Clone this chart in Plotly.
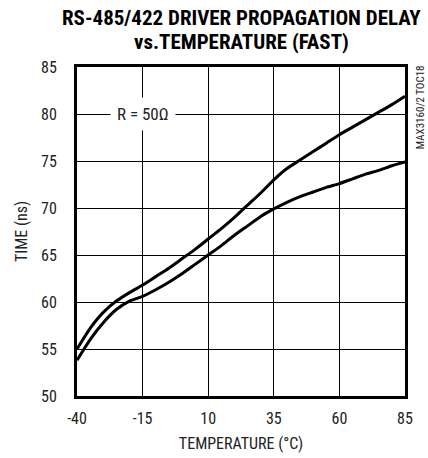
import plotly.graph_objects as go

temps = [-40, -35, -30, -25, -20, -15, -10, -5, 0, 5, 10, 15, 20, 25, 30, 35, 40, 45, 50, 55, 60, 65, 70, 75, 80, 85]
delay_upper = [55.0, 57.2, 58.9, 60.1, 61.0, 61.8, 62.7, 63.6, 64.6, 65.6, 66.7, 67.8, 69.0, 70.3, 71.6, 73.0, 74.2, 75.1, 76.0, 76.9, 77.8, 78.6, 79.4, 80.2, 81.0, 81.9]
delay_lower = [53.8, 56.0, 57.8, 59.2, 60.1, 60.6, 61.3, 62.1, 63.0, 64.0, 65.0, 66.0, 67.1, 68.1, 69.1, 69.9, 70.6, 71.2, 71.7, 72.2, 72.6, 73.1, 73.6, 74.0, 74.5, 74.9]
x_ticks = [-40, -15, 10, 35, 60, 85]
y_ticks = [50, 55, 60, 65, 70, 75, 80, 85]
title_lines = ["RS-485/422 DRIVER PROPAGATION DELAY", "vs.TEMPERATURE (FAST)"]

FONT = "Roboto Condensed, Liberation Sans Narrow, sans-serif"

fig = go.Figure()
for ys in (delay_upper, delay_lower):
    fig.add_trace(go.Scatter(x=temps, y=ys, mode="lines",
                             line=dict(color="black", width=3, shape="spline", smoothing=0.6),
                             showlegend=False, hoverinfo="skip"))

fig.update_layout(
    width=428, height=458,
    margin=dict(l=77, r=23, t=67, b=62),
    paper_bgcolor="white", plot_bgcolor="white",
    font=dict(family=FONT, size=16, color="#222"),
    xaxis=dict(range=[-40, 85], tickvals=x_ticks, ticktext=[str(v) for v in x_ticks],
               showgrid=True, gridcolor="black", gridwidth=1, zeroline=False,
               showline=True, mirror=True, linecolor="black", linewidth=3,
               ticks="outside", ticklen=6, tickcolor="rgba(0,0,0,0)", automargin=False,
               title=dict(text="TEMPERATURE (°C)", standoff=11, font=dict(size=16))),
    yaxis=dict(range=[50, 85], tickvals=y_ticks, ticktext=[str(v) for v in y_ticks],
               showgrid=True, gridcolor="black", gridwidth=1, zeroline=False,
               showline=True, mirror=True, linecolor="black", linewidth=3,
               ticks="outside", ticklen=14, tickcolor="rgba(0,0,0,0)", automargin=False,
               title=dict(text="TIME (ns)", standoff=10, font=dict(size=16))),
)

for txt, ypos in zip(title_lines, [1.150, 1.076]):
    fig.add_annotation(x=0.5, y=ypos, xref="paper", yref="paper", text="<b>" + txt + "</b>",
                       showarrow=False, xanchor="center", yanchor="middle",
                       font=dict(family=FONT, size=21, color="black"))

fig.add_annotation(x=-15, y=80, xref="x", yref="y", text="R = 50Ω", showarrow=False,
                   bgcolor="white", borderpad=6, font=dict(size=17, color="#222"))
fig.add_annotation(x=1.046, y=1.012, xref="paper", yref="paper", text="MAX3160/2 TOC18",
                   showarrow=False, textangle=-90, xanchor="center", yanchor="top",
                   font=dict(size=11, color="#222"))

fig.write_html("out.html", config={"displayModeBar": False},
               post_script="document.body.style.margin='0';document.body.style.overflow='hidden';")
